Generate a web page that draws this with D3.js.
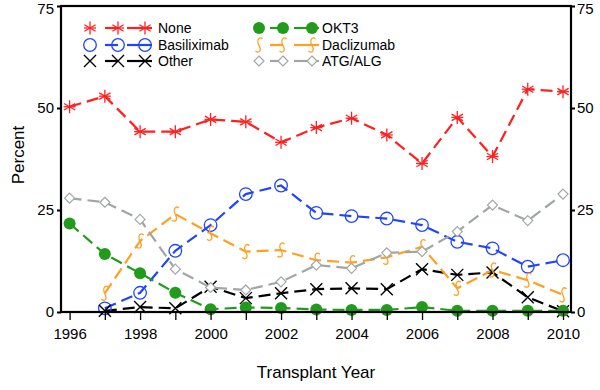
<!DOCTYPE html>
<html><head><meta charset="utf-8">
<script src="https://cdn.jsdelivr.net/npm/d3@7"></script>
<style>body{margin:0;background:#fff}svg{display:block}text{font-family:"Liberation Sans",Arial,sans-serif}</style>
</head><body><svg id="c" width="600" height="390"></svg>
<script>
const years = [1996,1997,1998,1999,2000,2001,2002,2003,2004,2005,2006,2007,2008,2009,2010];
const none        = [50.3,52.9,44.2,44.2,47.2,46.6,41.6,45.2,47.5,43.4,36.4,47.7,38.1,54.6,54.0];
const basiliximab = [null,0.9,4.7,15.0,21.3,28.9,31.0,24.3,23.5,22.9,21.3,17.2,15.6,11.1,12.7];
const other       = [null,0.3,1.2,0.9,6.2,3.4,4.6,5.6,5.8,5.6,10.5,9.1,9.7,3.6,0.2];
const okt3        = [21.7,14.2,9.5,4.7,0.7,1.1,1.0,0.6,0.5,0.5,1.2,0.3,0.3,0.3,0.3];
const daclizumab  = [null,4.6,17.4,24.0,19.3,14.8,15.2,12.7,12.1,13.4,16.0,5.8,10.3,7.8,4.2];
const atg         = [27.9,26.9,22.7,10.5,6.0,5.4,7.4,11.5,10.7,14.5,14.8,19.7,26.2,22.4,28.9];
const yTicks = [0,25,50,75];
const xLabels = [1996,1998,2000,2002,2004,2006,2008,2010];

const series = [
  {name:"None", values:none, color:"#ff2020", sym:"asterisk"},
  {name:"Basiliximab", values:basiliximab, color:"#2244ff", sym:"circle"},
  {name:"Other", values:other, color:"#000000", sym:"x"},
  {name:"OKT3", values:okt3, color:"#229a1c", sym:"dot"},
  {name:"Daclizumab", values:daclizumab, color:"#ffa024", sym:"esh"},
  {name:"ATG/ALG", values:atg, color:"#a0a6a6", sym:"diamond"}
];

const svg = d3.select("#c");
const L=61, R=571, T=6, B=312;
const x = d3.scaleLinear().domain([1995.756,2010.227]).range([L,R]);
const y = d3.scaleLinear().domain([0,75]).range([B,T]);

function drawMarker(g, s, cx, cy){
  const c = s.color;
  if(s.sym==="asterisk"){
    const r=6.5;
    for(const a of [90,30,150]){
      const rad=a*Math.PI/180;
      g.append("line").attr("x1",cx-r*Math.cos(rad)).attr("y1",cy-r*Math.sin(rad))
       .attr("x2",cx+r*Math.cos(rad)).attr("y2",cy+r*Math.sin(rad))
       .attr("stroke",c).attr("stroke-width",1.3);
    }
    g.append("line").attr("x1",cx-6).attr("x2",cx+6).attr("y1",cy).attr("y2",cy).attr("stroke",c).attr("stroke-width",1.3);
  } else if(s.sym==="circle"){
    g.append("circle").attr("cx",cx).attr("cy",cy).attr("r",6.3).attr("fill","none").attr("stroke",c).attr("stroke-width",1.3);
  } else if(s.sym==="x"){
    const r=6;
    g.append("path").attr("d",`M${cx-r},${cy-r}L${cx+r},${cy+r}M${cx-r},${cy+r}L${cx+r},${cy-r}`)
     .attr("stroke",c).attr("stroke-width",1.4).attr("fill","none");
  } else if(s.sym==="dot"){
    g.append("circle").attr("cx",cx).attr("cy",cy).attr("r",6).attr("fill",c);
  } else if(s.sym==="esh"){
    g.append("path").attr("d",`M${cx+3.5},${cy-6} C${cx+1},${cy-8.5} ${cx-2},${cy-6} ${cx-1},${cy-2} L${cx+1},${cy+3} C${cx+2},${cy+7} ${cx-1},${cy+8} ${cx-3.5},${cy+6}`)
     .attr("stroke",c).attr("stroke-width",1.3).attr("fill","none");
  } else if(s.sym==="diamond"){
    const r=5;
    g.append("path").attr("d",`M${cx},${cy-r}L${cx+r},${cy}L${cx},${cy+r}L${cx-r},${cy}Z`)
     .attr("stroke",c).attr("stroke-width",1.2).attr("fill","#fff");
  }
}

// lines
const plot = svg.append("g");
series.forEach(s=>{
  const pts = years.map((yr,i)=>({yr, v:s.values[i]}));
  const line = d3.line().defined(d=>d.v!==null).x(d=>x(d.yr)).y(d=>y(d.v));
  plot.append("path").attr("d",line(pts)).attr("fill","none").attr("stroke",s.color)
    .attr("stroke-width",2.2).attr("stroke-dasharray","12,6");
});
// markers
series.forEach(s=>{
  const g = plot.append("g");
  years.forEach((yr,i)=>{ if(s.values[i]!==null) drawMarker(g,s,x(yr),y(s.values[i])); });
});

// frame
const ax = svg.append("g").attr("stroke","#000").attr("stroke-width",2.2).attr("fill","none");
ax.append("rect").attr("x",L).attr("y",T).attr("width",R-L).attr("height",B-T);

// x axis ticks
const xa = svg.append("g").attr("transform",`translate(0,${B})`)
  .call(d3.axisBottom(x).tickValues(years).tickSize(8).tickFormat(d=>xLabels.includes(d)?d:""));
xa.select(".domain").remove();
xa.selectAll("line").attr("stroke","#000").attr("stroke-width",1.3);
xa.selectAll("text").attr("font-size",15).attr("fill","#000").attr("dy","1.05em");

// y axes
function fixTop(sel){
  sel.selectAll(".tick").filter(d=>d===75).select("text").attr("dy","0.5em");
}
const ya = svg.append("g").attr("transform",`translate(${L},0)`)
  .call(d3.axisLeft(y).tickValues(yTicks).tickSize(4).tickPadding(3));
ya.select(".domain").remove();
ya.selectAll("line").attr("stroke","#000").attr("stroke-width",2);
ya.selectAll("text").attr("font-size",15).attr("fill","#000");
fixTop(ya);
const yr2 = svg.append("g").attr("transform",`translate(${R},0)`)
  .call(d3.axisRight(y).tickValues(yTicks).tickSize(4).tickPadding(2));
yr2.select(".domain").remove();
yr2.selectAll("line").attr("stroke","#000").attr("stroke-width",2);
yr2.selectAll("text").attr("font-size",15).attr("fill","#000");
fixTop(yr2);

svg.append("text").attr("x",(L+R)/2).attr("y",378).attr("text-anchor","middle")
  .attr("font-size",17).text("Transplant Year");
svg.append("text").attr("transform","translate(24,155) rotate(-90)").attr("text-anchor","middle")
  .attr("font-size",17).text("Percent");

// legend
const cols = [{m:[90,118,145], tx:158},{m:[259,283,312], tx:322}];
const rowsY = [28,45,61];
series.forEach((s,i)=>{
  const col = cols[Math.floor(i/3)], ry = rowsY[i%3];
  const g = svg.append("g");
  const m = col.m;
  const segs = [[m[1]-13,m[1]],[m[2]-18,m[2]],[m[2],m[2]+7]];
  segs.forEach(sg=>g.append("line").attr("x1",sg[0]).attr("x2",sg[1]).attr("y1",ry).attr("y2",ry)
    .attr("stroke",s.color).attr("stroke-width",2.2));
  m.forEach(mx=>drawMarker(g,s,mx,ry));
  g.append("text").attr("x",col.tx).attr("y",ry+5).attr("font-size",14).text(s.name);
});
</script></body></html>
